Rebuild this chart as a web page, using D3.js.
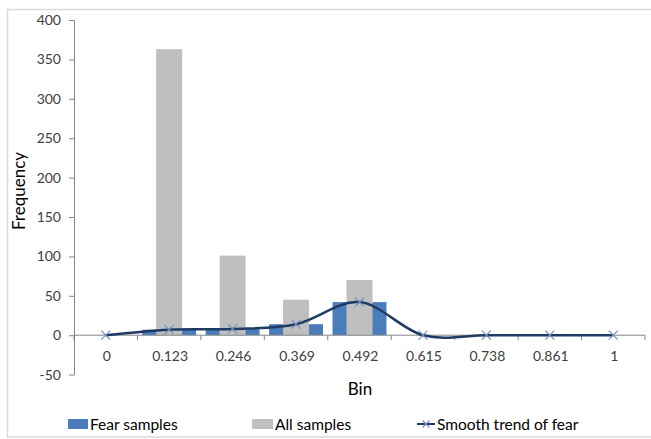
<!DOCTYPE html>
<html><head><meta charset="utf-8">
<script src="https://cdn.jsdelivr.net/npm/d3@7"></script>
<style>
html,body{margin:0;padding:0;background:#fff;}
svg{display:block;font-family:Lato,"Open Sans",sans-serif;}
</style></head>
<body><svg id="chart" width="651" height="439"></svg>
<script>
const bins = ["0","0.123","0.246","0.369","0.492","0.615","0.738","0.861","1"];
const fearSamples = [0, 7, 8, 14, 42, 0, 0, 0, 0];
const allSamples = [0, 363, 101, 45, 70, 0, 0, 0, 0];
const smoothTrend = [0, 7, 8, 14, 42, 0, 0, 0, 0];
const yTicks = [-50, 0, 50, 100, 150, 200, 250, 300, 350, 400];
const seriesNames = ["Fear samples", "All samples", "Smooth trend of fear"];

const svg = d3.select("#chart");
const L = 74, R = 645, T = 20, B = 374.6;

svg.append("rect").attr("x",7.5).attr("y",9.5).attr("width",660).attr("height",427.5)
  .attr("fill","#fff").attr("stroke","#d9d9d9").attr("stroke-width",1.5);

const x = d3.scaleBand().domain(bins).range([L, R]).paddingInner(0).paddingOuter(0);
const y = d3.scaleLinear().domain([-50, 400]).range([B, T]);

const bw = x.bandwidth();
const fearW = bw * 0.85, allW = bw * 0.41;

// fear bars (primary, wide)
svg.append("g").selectAll("rect").data(bins).join("rect")
  .attr("x", d => x(d) + (bw - fearW) / 2)
  .attr("width", fearW)
  .attr("y", (d, i) => y(Math.max(0, fearSamples[i])))
  .attr("height", (d, i) => Math.abs(y(fearSamples[i]) - y(0)))
  .attr("fill", "#4a7ebb");

// all samples bars (secondary, narrow, on top)
svg.append("g").selectAll("rect").data(bins).join("rect")
  .attr("x", d => x(d) + (bw - allW) / 2)
  .attr("width", allW)
  .attr("y", (d, i) => y(Math.max(0, allSamples[i])))
  .attr("height", (d, i) => Math.abs(y(allSamples[i]) - y(0)))
  .attr("fill", "#bfbfbf");

// y axis
const yAxis = d3.axisLeft(y).tickValues(yTicks).tickFormat(d => String(d))
  .tickSize(5).tickPadding(8).tickSizeOuter(0);
const gy = svg.append("g").attr("transform", `translate(${L},0)`).call(yAxis);
gy.select(".domain").attr("stroke", "#868686");
gy.selectAll(".tick line").attr("stroke", "#868686");
gy.selectAll(".tick text").attr("fill", "#404040").style("font-size", "14px").style("font-family","Lato");

// x axis at zero
const gx = svg.append("g").attr("transform", `translate(0,${y(0)})`);
gx.append("line").attr("x1", L).attr("x2", R).attr("y1", 0).attr("y2", 0).attr("stroke", "#868686");
const edges = bins.map(d => x(d)).concat([x(bins[bins.length-1]) + bw]);
gx.selectAll("line.tk").data(edges).join("line").attr("class","tk")
  .attr("x1", d => d).attr("x2", d => d).attr("y1", 0).attr("y2", 5).attr("stroke", "#868686");
gx.selectAll("text").data(bins).join("text")
  .attr("x", d => x(d) + bw / 2 + 1).attr("y", 26)
  .attr("text-anchor", "middle").attr("fill", "#404040")
  .style("font-size", "14px").text(d => d);

// smooth line
const line = d3.line().x((d, i) => x(bins[i]) + bw / 2).y(d => y(d)).curve(d3.curveCardinal.tension(0));
svg.append("path").datum(smoothTrend).attr("d", line)
  .attr("fill", "none").attr("stroke", "#1f3a64").attr("stroke-width", 2.5);

// markers (x)
const mk = 4.5;
const mg = svg.append("g");
smoothTrend.forEach((v, i) => {
  const cx = x(bins[i]) + bw / 2, cy = y(v);
  mg.append("path").attr("d", `M${cx-mk},${cy-mk}L${cx+mk},${cy+mk}M${cx-mk},${cy+mk}L${cx+mk},${cy-mk}`)
    .attr("stroke", "#6f8fbf").attr("stroke-width", 1.2).attr("fill", "none");
});

// axis titles
svg.append("text").attr("transform", "translate(25,191) rotate(-90)")
  .attr("text-anchor", "middle").attr("fill", "#000").style("font-size", "17px").text("Frequency");
svg.append("text").attr("x", 360).attr("y", 395)
  .attr("text-anchor", "middle").attr("fill", "#000").style("font-size", "17px").text("Bin");

// legend
const lg = svg.append("g");
const ly = 424;
lg.append("rect").attr("x", 68).attr("y", ly - 5).attr("width", 20).attr("height", 10).attr("fill", "#4a7ebb");
lg.append("text").attr("x", 90).attr("y", ly + 5.5).style("font-size", "15.5px").attr("fill", "#000").text(seriesNames[0]);
lg.append("rect").attr("x", 252).attr("y", ly - 5).attr("width", 21).attr("height", 10).attr("fill", "#bfbfbf");
lg.append("text").attr("x", 275).attr("y", ly + 5.5).style("font-size", "15.5px").attr("fill", "#000").text(seriesNames[1]);
lg.append("line").attr("x1", 417).attr("x2", 435).attr("y1", ly).attr("y2", ly).attr("stroke", "#1f3a64").attr("stroke-width", 2);
lg.append("path").attr("d", `M${426-3.5},${ly-3.5}L${426+3.5},${ly+3.5}M${426-3.5},${ly+3.5}L${426+3.5},${ly-3.5}`)
  .attr("stroke", "#6f8fbf").attr("stroke-width", 1.2);
lg.append("text").attr("x", 437).attr("y", ly + 5.5).style("font-size", "15.5px").attr("fill", "#000").text(seriesNames[2]);
</script></body></html>
